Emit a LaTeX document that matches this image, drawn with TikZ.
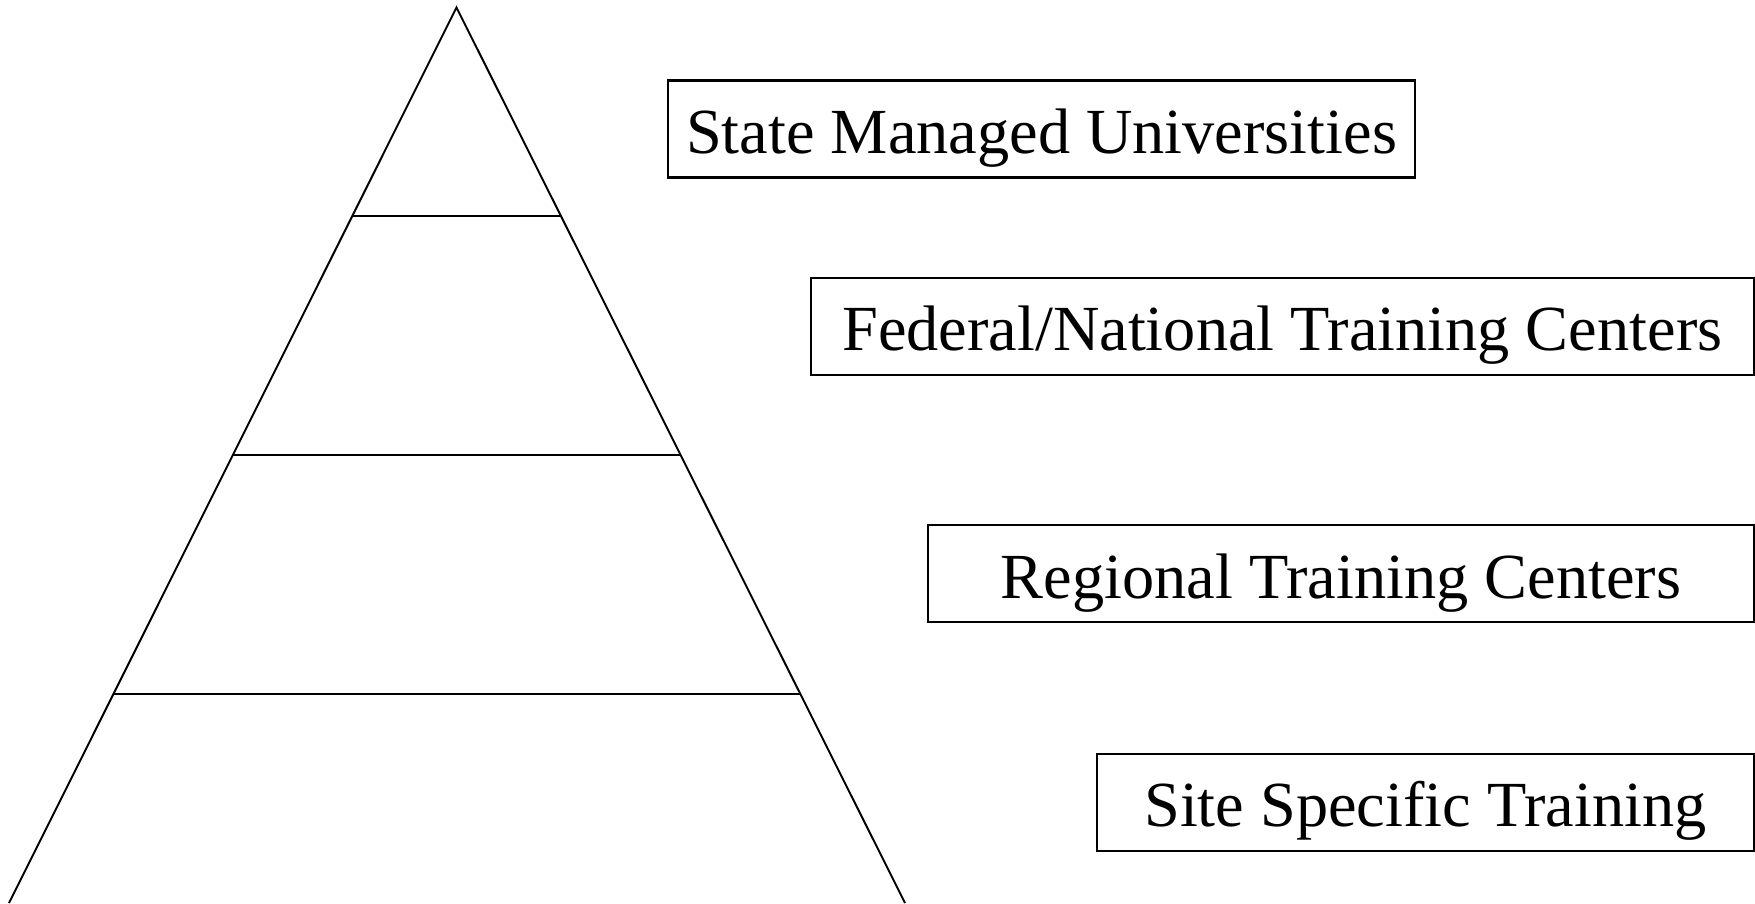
\documentclass[tikz,border=0pt]{standalone}
\usepackage{fontspec}
\setmainfont{Liberation Serif}
\usetikzlibrary{calc}

\tikzset{
  levelbox/.style={draw, line width=0.6pt, inner sep=0pt, minimum height=0.97cm,
    text height=0.486cm, text depth=0pt,
    font=\fontsize{18.3}{22}\selectfont}
}

\begin{document}
\begin{tikzpicture}[line width=0.55pt]
\useasboundingbox (0,0) rectangle (17.55,9.03);
% Pyramid
\coordinate (top) at (4.565,8.955);
\coordinate (bl) at (0.09,0);
\coordinate (br) at (9.05,0);
\draw (bl) -- (top) -- (br);
% Tier lines
\foreach \t in {0.2325,0.5,0.767}{
  \draw ($(top)!\t!(bl)$) -- ($(top)!\t!(br)$);
}
% Labels
\node[levelbox, minimum width=7.476cm] (univ) at (10.416,7.74) {State Managed Universities};
\node[levelbox, minimum width=9.433cm] (federal) at (12.8235,5.7635) {Federal/National Training Centers};
\node[levelbox, minimum width=8.261cm] (regional) at (13.4095,3.2915) {Regional Training Centers};
\node[levelbox, minimum width=6.574cm] (site) at (14.253,1.005) {Site Specific Training};
\end{tikzpicture}
\end{document}
